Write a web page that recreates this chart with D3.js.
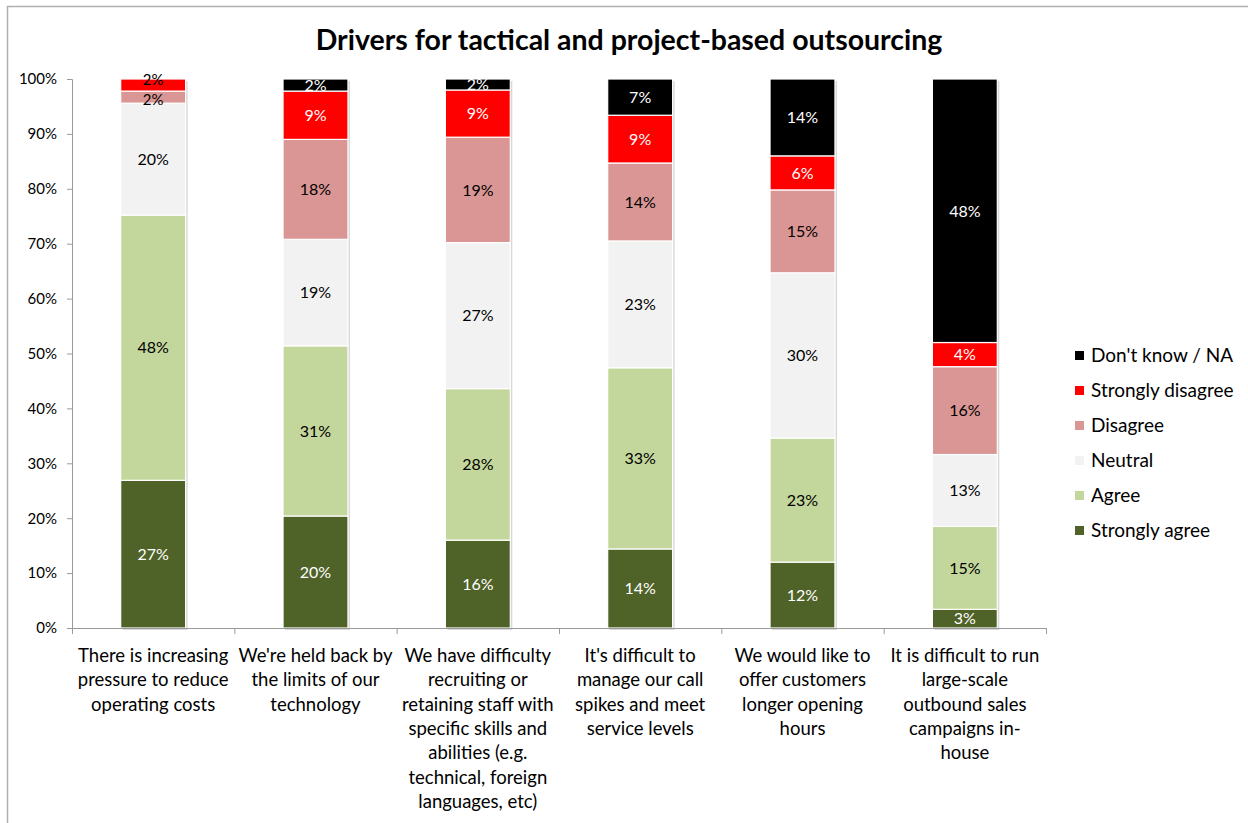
<!DOCTYPE html>
<html><head><meta charset="utf-8">
<script src="https://cdn.jsdelivr.net/npm/d3@7"></script>
<style>body{margin:0;background:#fff;} text{font-family:Lato,"Open Sans",sans-serif;}</style>
</head><body>
<svg id="c" width="1248" height="823"></svg>
<script>
const categories = [
  "There is increasing pressure to reduce operating costs",
  "We're held back by the limits of our technology",
  "We have difficulty recruiting or retaining staff with specific skills and abilities (e.g. technical, foreign languages, etc)",
  "It's difficult to manage our call spikes and meet service levels",
  "We would like to offer customers longer opening hours",
  "It is difficult to run large-scale outbound sales campaigns in-house"
];
const categoryLines = [
  ["There is increasing","pressure to reduce","operating costs"],
  ["We're held back by","the limits of our","technology"],
  ["We have difficulty","recruiting or","retaining staff with","specific skills and","abilities (e.g.","technical, foreign","languages, etc)"],
  ["It's difficult to","manage our call","spikes and meet","service levels"],
  ["We would like to","offer customers","longer opening","hours"],
  ["It is difficult to run","large-scale","outbound  sales","campaigns in-","house"]
];
const seriesNames = ["Strongly agree","Agree","Neutral","Disagree","Strongly disagree","Don't know / NA"];
const stronglyAgree    = [26.9, 20.4, 16.0, 14.4, 12.0, 3.4];
const agree            = [48.3, 31.0, 27.6, 33.0, 22.6, 15.1];
const neutral          = [20.4, 19.4, 26.6, 23.1, 30.1, 13.1];
const disagree         = [2.2, 18.2, 19.2, 14.2, 15.1, 16.0];
const stronglyDisagree = [2.2, 8.8, 8.6, 8.7, 6.2, 4.4];
const dontKnow         = [0, 2.2, 2.0, 6.6, 14.0, 48.0];
const yTicks = [0,10,20,30,40,50,60,70,80,90,100];

(function(){
const colors = ["#4F6228","#C3D69B","#F2F2F2","#D99694","#FF0000","#000000"];
const labelColors = ["#fff","#000","#000","#000","#fff","#fff"];
const seriesVals = [stronglyAgree, agree, neutral, disagree, stronglyDisagree, dontKnow];

const svg = d3.select("#c");
svg.append("path").attr("d","M7.5,823 V6.5 H1248").attr("fill","none").attr("stroke","#b0b0b0").attr("stroke-width",1.5);

const pLeft=72, pRight=1046, pTop=79, pBottom=628;
const x = d3.scaleBand().domain(d3.range(categories.length)).range([pLeft,pRight]).paddingInner(0.6).paddingOuter(0.3);
const y = d3.scaleLinear().domain([0,100]).range([pBottom,pTop]);

const title = svg.append("text").attr("x",629).attr("y",50).attr("text-anchor","middle")
  .attr("font-weight","bold").attr("font-size",26).attr("fill","#000")
  .text("Drivers for tactical and project-based outsourcing");
const tw = title.node().getComputedTextLength();
title.attr("font-size", 26*627/tw);

const rows = categories.map((c,i)=>{const o={i}; seriesNames.forEach((s,k)=>o[s]=seriesVals[k][i]); return o;});
const stack = d3.stack().keys(seriesNames)(rows);

svg.append("g").selectAll("rect").data(rows).join("rect")
  .attr("x",d=>x(d.i)+2).attr("width",x.bandwidth())
  .attr("y",y(100)+2).attr("height",y(0)-y(100))
  .attr("fill","#d8d8d8");

const g = svg.append("g");
stack.forEach((layer,k)=>{
  g.selectAll(null).data(layer.filter(d=>d[1]-d[0]>0)).join("rect")
    .attr("x",d=>x(d.data.i)).attr("width",x.bandwidth())
    .attr("y",d=>y(d[1])).attr("height",d=>y(d[0])-y(d[1]))
    .attr("fill",colors[k]).attr("stroke","#fff").attr("stroke-width",1.2);
});
stack.forEach((layer,k)=>{
  g.selectAll(null).data(layer.filter(d=>d[1]-d[0]>0)).join("text")
    .attr("x",d=>x(d.data.i)+x.bandwidth()/2)
    .attr("y",d=>{
      let c=(y(d[1])+y(d[0]))/2;
      if(d.data.i===0 && k===4) c-=5;
      if(d.data.i===0 && k===3) c+=2;
      return c;})
    .attr("dy","0.36em").attr("text-anchor","middle")
    .attr("font-size",d=>(d.data.i===0 && (k===3||k===4))?15:16)
    .attr("fill",d=>(k===4 && d.data.i===0)?"#000":labelColors[k])
    .text(d=>Math.round(d[1]-d[0])+"%");
});

const yAxis = d3.axisLeft(y).tickValues(yTicks).tickFormat(d=>d+"%").tickSize(5).tickPadding(10);
const ya = svg.append("g").attr("transform",`translate(${pLeft},0)`).call(yAxis);
ya.selectAll("path,line").attr("stroke","#9a9a9a");
ya.select(".domain").attr("d",`M-5,${pTop}.5H0.5V${pBottom}.5`);
ya.selectAll("text").attr("font-size",15).attr("fill","#000").style("font-family","Lato,sans-serif");

const xa = svg.append("g").attr("transform",`translate(0,${pBottom})`);
xa.append("line").attr("x1",pLeft).attr("x2",pRight).attr("y1",0.5).attr("y2",0.5).attr("stroke","#9a9a9a");
const step = (pRight-pLeft)/categories.length;
xa.selectAll("line.t").data(d3.range(categories.length+1)).join("line").attr("class","t")
  .attr("x1",d=>pLeft+d*step+0.5).attr("x2",d=>pLeft+d*step+0.5).attr("y1",0).attr("y2",6).attr("stroke","#9a9a9a");
categoryLines.forEach((lines,i)=>{
  const t = svg.append("text").attr("text-anchor","middle").attr("font-size",18.5).attr("fill","#000");
  lines.forEach((ln,j)=>t.append("tspan").attr("x",x(i)+x.bandwidth()/2).attr("y",662+j*24.3).text(ln));
});

const legendOrder = [5,4,3,2,1,0];
const lg = svg.append("g");
legendOrder.forEach((k,j)=>{
  const yy = 355+j*35;
  lg.append("rect").attr("x",1075).attr("y",yy-4).attr("width",9).attr("height",9).attr("fill",colors[k]);
  lg.append("text").attr("x",1091).attr("y",yy).attr("dy","0.36em").attr("font-size",19).attr("fill","#000").text(seriesNames[k]);
});
})();
</script>
</body></html>
